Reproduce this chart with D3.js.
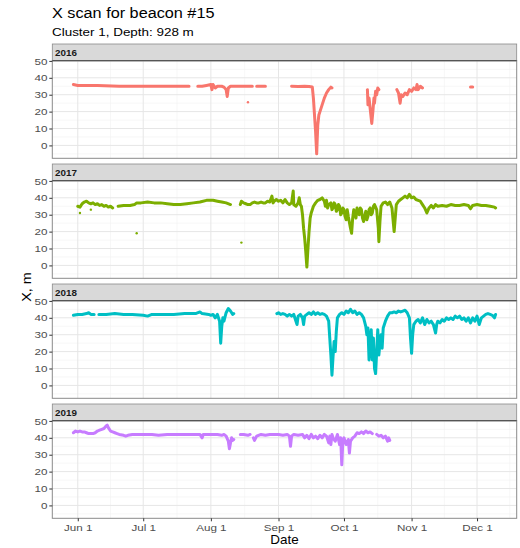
<!DOCTYPE html>
<html><head><meta charset="utf-8">
<script src="https://cdn.jsdelivr.net/npm/d3@7"></script>
<style>body{margin:0;background:#fff} svg{display:block} text{font-family:"Liberation Sans",Arial,sans-serif}</style>
</head><body><svg id="chart" width="520" height="548"></svg>
<script>
// ---------------- data ----------------
const years = ["2016", "2017", "2018", "2019"];
const seriesColors = ["#F8766D", "#7CAE00", "#00BFC4", "#C77CFF"];
const titleText = "X scan for beacon #15";
const subtitleText = "Cluster 1, Depth: 928 m";
const yTicks = [0, 10, 20, 30, 40, 50];
const xTickDates = ["06-01", "07-01", "08-01", "09-01", "10-01", "11-01", "12-01"];

// dates are "MM-DD" or "MM-DD HH"; null value = gap in record
const dates2016 = ["05-30","06-01","06-10","06-20","07-01","07-10","07-22","07-24",
  "07-26","07-28","07-30","08-01","08-01 12","08-02","08-03","08-04","08-06","08-07","08-08","08-08 12","08-09","08-10","08-12","08-16","08-20","08-21",
  "08-22","08-26","08-28",
  "09-07","09-10","09-13","09-15","09-16 12","09-17","09-17 12","09-18","09-18 12","09-18 18","09-19","09-19 12","09-20","09-21","09-22","09-23","09-24","09-25","09-25 12","09-30",
  "10-11 18","10-12","10-12 12","10-13","10-13 18","10-14 06","10-14 18","10-15","10-15 12","10-16","10-16 12","10-17","10-20",
  "10-25 06","10-26","10-26 18","10-27 06","10-28","10-29","10-30","10-31","11-01","11-02","11-03","11-03 12","11-04","11-05","11-06","11-15",
  "11-28","11-29"];
const x2016 = [36,35.5,35.5,35,35,35,35,null,
  35,35,35.5,36,33,36,34,35,35,34.5,33,29,34,35,35,35,35,null,
  35,35,null,
  35,34.8,35,34.8,34.5,28,18,8,-5,4,12,18,20,24,28,31,33,34.5,34,null,
  33,24,28,22,13,20,28,25,32,30,34,33,null,
  33,31,25,30,29,31,30,33,32,34,33,36,33,35,34,null,
  34.5,34.5];
const pointDates2016 = ["08-18"];
const pointX2016 = [25.5];

const dates2017 = ["06-01","06-02","06-03","06-04","06-05","06-06","06-07","06-08","06-09","06-10","06-11","06-12","06-13","06-14","06-15","06-16","06-17","06-18",
  "06-19 12","06-22","06-25","06-27","06-28","06-30","07-03","07-06","07-09","07-12","07-15","07-18","07-21","07-24","07-27","07-30","08-02","08-04","08-06","08-08","08-10","08-12",
  "08-14 12","08-15","08-16","08-17","08-18","08-19","08-20","08-21","08-22","08-23","08-24","08-25","08-26","08-27","08-28","08-29","08-29 12","08-30","08-31",
  "09-01","09-02","09-03","09-04","09-05","09-06","09-07","09-07 18","09-08","09-09","09-10","09-10 12","09-11","09-11 12","09-12","09-12 12","09-13","09-13 12","09-14","09-14 12","09-15","09-15 12","09-16","09-17","09-18","09-19","09-20","09-21",
  "09-22","09-22 12","09-23","09-23 12","09-24","09-25","09-25 12","09-26","09-26 12","09-27","09-27 12","09-28","09-28 12","09-29","09-29 12","09-30","09-30 12",
  "10-01","10-01 12","10-02","10-02 12","10-03","10-04","10-04 12","10-05","10-05 12","10-06","10-06 12","10-07","10-07 12","10-08","10-08 12","10-09","10-09 12","10-10","10-11","10-11 12","10-12","10-12 12","10-13","10-13 12","10-14","10-14 12","10-15","10-16","10-16 18","10-17","10-17 12","10-18","10-19","10-20","10-21","10-22","10-23","10-24","10-24 12","10-25","10-26","10-27","10-28","10-29","10-30","10-31",
  "11-01","11-02","11-03","11-04","11-05","11-06","11-07","11-08","11-09","11-10","11-11","11-12","11-13","11-15","11-17","11-19","11-21","11-23","11-25","11-27","11-28","11-29",
  "12-01","12-03","12-05","12-07","12-09","12-09 12"];
const x2017 = [35,34.5,36.5,37.5,38,37,36.5,37,36,36.5,35.5,36,35,35.5,34.5,35,34,null,
  35,35.5,35.5,36,37,37,37.5,37,37,36.5,36,36,36.5,37,37.5,38.5,38.5,38,37.5,37,36,null,
  36,38,37,36.5,36,36,37,37.5,37,37,37.5,37,37,38,37.5,41,37,38,39,
  38,38.5,37,39,37,36,37,44,36,35,37,40,36,35,30,22,16,8,-1,10,20,28,31,35,37,38.5,39,40,
  38,35,38.5,34,36,37,33,34,37,36,32,33,36,35,30,31,34,
  33,29,27,33,29,22,19,28,33,31,28,34,31,30,34,33,28,26,32,27,29,33,34,30,31,35,36,33,22,14,26,35,37,37.5,36,37.5,34,20,28,36,38,39,40,41,40,42,
  40,40.5,39,38.5,38,36,34,31,34,35.5,34,36,35,35.5,35,36,35.5,35.5,36,35.5,33.5,35.5,
  36,35.5,35.5,35,34.5,34];
const pointDates2017 = ["06-02","06-07","06-28","08-15"];
const pointX2017 = [31, 33, 19, 13.5];

const dates2018 = ["05-30","06-01","06-03","06-05","06-06","06-07","06-08 12","06-09",
  "06-10 16","06-14","06-18","06-22","06-26","07-01","07-03","07-05","07-10","07-15","07-20","07-25","07-27","07-28","07-31","08-01","08-02","08-03","08-04","08-05","08-05 12","08-06","08-06 12","08-07","08-08","08-09","08-10","08-11","08-11 12","08-20",
  "08-31 06","09-01","09-02","09-03","09-04","09-05","09-06","09-07","09-08","09-09","09-09 12","09-10","09-11","09-12","09-12 12","09-13","09-14","09-15","09-16","09-17","09-18","09-19","09-20","09-21","09-22","09-23","09-24","09-24 12","09-25","09-25 12","09-26","09-26 12","09-27","09-27 12","09-28","09-29","09-30",
  "10-01","10-02","10-03","10-04","10-05","10-06","10-07","10-08","10-09","10-10","10-11","10-11 12","10-12","10-12 12","10-13","10-13 12","10-14","10-14 12","10-15","10-15 12","10-16","10-16 12","10-17","10-17 12","10-18","10-18 12","10-19","10-20","10-21","10-22","10-23","10-24","10-25","10-26","10-27","10-28","10-29","10-30","10-31","10-31 12",
  "11-01","11-01 12","11-02","11-03","11-04","11-05","11-06","11-07","11-08","11-09","11-10","11-11","11-12","11-12 12","11-13","11-14","11-15","11-16","11-17","11-18","11-19","11-20","11-21","11-22","11-23","11-24","11-25","11-26","11-27","11-28","11-29","11-30",
  "12-01","12-02","12-03","12-04","12-05","12-06","12-07","12-08","12-09","12-09 12"];
const x2018 = [41.5,42,42,42.5,43,42,42,null,
  42,42,42.5,42,42,41.5,41,42,42,42,42.5,42.5,43.5,42.5,42,41.5,42,40,42,38,25,35,40,38,43,45.5,44,42,42.5,null,
  42.5,43,42,42.5,42,41,42,41,42,38,36,41,42,40,36,41,42,43,42,43.5,42,43,42,42.5,42,41,38,28,18,6,17,26,20,32,40,42,43,
  42,44,43,45,43,44,42,43,42,40,35,30,34,15,25,33,15,28,10,7,20,33,18,25,30,22,34,38,41,43,43,43.5,43,44,43.5,44,44.5,43,40,28,
  19,30,36,38,39,37,40,36,39,37,38,36,31,36,38,37,39,38,40,39,40,39,41,40,41,39,40,38,40,37,40,38,
  41,36,40,41,42,42.5,42,41.5,40,42];
const pointDates2018 = [];
const pointX2018 = [];

const dates2019 = ["05-30","05-31","06-01","06-02","06-03","06-04","06-05","06-06","06-07","06-08","06-09","06-10","06-11","06-12","06-13","06-14","06-14 12","06-15","06-16","06-17","06-18","06-19","06-20","06-22","06-23","06-24","06-26","06-30","07-05","07-08","07-12","07-16","07-20","07-24","07-27","07-28","07-28 12","08-01","08-04","08-06","08-07","08-08","08-09","08-09 12","08-10","08-10 12","08-11","08-11 12","08-12",
  "08-14 12","08-16","08-18","08-19","08-20",
  "08-20 12","08-21","08-22","08-24","08-26","08-28","08-30","09-01","09-03","09-05","09-06","09-06 12","09-07","09-08","09-10","09-12","09-13","09-14","09-15","09-16","09-17","09-18","09-19","09-20","09-21","09-22","09-23","09-24","09-24 12","09-25","09-25 12","09-26","09-27","09-28","09-29","09-29 12","09-30","09-30 12",
  "10-01","10-02","10-03","10-03 12","10-04","10-05","10-06","10-07","10-08","10-09","10-10","10-11","10-12","10-13","10-14","10-15",
  "10-16","10-17","10-18","10-19","10-20","10-21","10-21 12","10-22"];
const x2019 = [43,44,43.5,44,43.5,43.5,43,42.5,42.5,42.5,43,44,44.5,45,45.5,47,47.5,46,44,43.5,43,42.5,42,41.5,41,41.5,42,42,42,41.5,42,42,42,42,42,40,42,42,42,41.5,42,41,38,33.5,37,40,38.5,39,null,
  42,42,41.5,42,null,
  40,38.5,41,42,41.5,42,42,42,41.5,42,41,35,41,42,41.5,42,40,41.5,39.5,42,40,41,39.5,41.5,40,42,41,37,41,36,42,40,38,42,36,40,24,38,
  40,36,39,31,38,40,41,43,42.5,43.5,42.5,44,43,43.5,42.5,null,
  42,41,41.5,40,41,38,40,38.5];
const pointDates2019 = [];
const pointX2019 = [];

const lineDates = [dates2016, dates2017, dates2018, dates2019];
const lineValues = [x2016, x2017, x2018, x2019];
const pointDates = [pointDates2016, pointDates2017, pointDates2018, pointDates2019];
const pointValues = [pointX2016, pointX2017, pointX2018, pointX2019];

// ---------------- helpers ----------------
const parse = d3.timeParse("%Y-%m-%d %H");
const toDate = s => parse("2000-" + (s.length > 5 ? s : s + " 00"));

const lineData = lineDates.map((ds, i) => ds.map((d, j) => ({date: toDate(d), v: lineValues[i][j]})));
const pointData = pointDates.map((ds, i) => ds.map((d, j) => ({date: toDate(d), v: pointValues[i][j]})));
const allPts = lineData.flat().concat(pointData.flat()).filter(d => d.v != null);

const xExt = d3.extent(allPts, d => +d.date);
const yExt = d3.extent(allPts, d => d.v);
const xPad = (xExt[1] - xExt[0]) * 0.05, yPad = (yExt[1] - yExt[0]) * 0.05;

const L = 52.3, R = 516.7;
const x = d3.scaleTime().domain([new Date(xExt[0] - xPad), new Date(xExt[1] + xPad)]).range([L, R]);

const svg = d3.select("#chart");
svg.append("rect").attr("width", 520).attr("height", 548).attr("fill", "#fff");

function label(g, tx, ty, str, size, sx, opts = {}) {
  return g.append("text")
    .attr("transform", `translate(${tx},${ty})${opts.rotate ? " rotate(" + opts.rotate + ")" : ""} scale(${sx},1)`)
    .attr("text-anchor", opts.anchor || "start")
    .attr("font-size", size)
    .attr("font-weight", opts.weight || "normal")
    .attr("fill", opts.fill || "#000")
    .text(str);
}

// titles
label(svg, 52, 18.3, titleText, 14, 1.16);
label(svg, 52, 35.6, subtitleText, 11.2, 1.2);
label(svg, 284.5, 544, "Date", 12.2, 1.1, {anchor: "middle"});
label(svg, 30.5, 287, "X, m", 12, 1.2, {anchor: "middle", rotate: -90});

const majorX = xTickDates.map(toDate);
const stepX = x(majorX[1]) - x(majorX[0]);
const minorX = [];
for (let i = -1; i < majorX.length; i++) {
  const a = i < 0 ? x(majorX[0]) - stepX : x(majorX[i]);
  const b = i + 1 < majorX.length ? x(majorX[i + 1]) : x(majorX[i]) + stepX;
  minorX.push((a + b) / 2);
}

years.forEach((yr, i) => {
  const top = 44 + 120 * i;
  const pTop = top + 16.7, pBot = top + 114.3;
  const y = d3.scaleLinear().domain([yExt[0] - yPad, yExt[1] + yPad]).range([pBot, pTop]);
  const g = svg.append("g");

  g.append("rect").attr("x", L).attr("y", pTop).attr("width", R - L).attr("height", pBot - pTop).attr("fill", "#fff");

  // minor grid
  const minorY = yTicks.map(t => t - 5).concat([yTicks[yTicks.length - 1] + 5]).filter(t => y(t) > pTop && y(t) < pBot);
  g.selectAll(".mny").data(minorY).join("line")
    .attr("x1", L).attr("x2", R).attr("y1", d => y(d)).attr("y2", d => y(d))
    .attr("stroke", "#F2F2F2").attr("stroke-width", 0.6);
  g.selectAll(".mnx").data(minorX.filter(v => v > L && v < R)).join("line")
    .attr("x1", d => d).attr("x2", d => d).attr("y1", pTop).attr("y2", pBot)
    .attr("stroke", "#F2F2F2").attr("stroke-width", 0.6);
  // major grid
  g.selectAll(".mjy").data(yTicks).join("line")
    .attr("x1", L).attr("x2", R).attr("y1", d => y(d)).attr("y2", d => y(d))
    .attr("stroke", "#E6E6E6").attr("stroke-width", 1);
  g.selectAll(".mjx").data(majorX).join("line")
    .attr("x1", d => x(d)).attr("x2", d => x(d)).attr("y1", pTop).attr("y2", pBot)
    .attr("stroke", "#E6E6E6").attr("stroke-width", 1);

  // data
  const line = d3.line().defined(d => d.v != null).x(d => x(d.date)).y(d => y(d.v));
  g.append("path").datum(lineData[i]).attr("d", line)
    .attr("fill", "none").attr("stroke", seriesColors[i]).attr("stroke-width", 3)
    .attr("stroke-linejoin", "round").attr("stroke-linecap", "round");
  g.selectAll(".pt").data(pointData[i]).join("circle")
    .attr("cx", d => x(d.date)).attr("cy", d => y(d.v)).attr("r", 1.2)
    .attr("fill", seriesColors[i]);

  // panel border
  g.append("rect").attr("x", L).attr("y", pTop).attr("width", R - L).attr("height", pBot - pTop)
    .attr("fill", "none").attr("stroke", "#8a8a8a").attr("stroke-width", 1);
  // strip
  g.append("rect").attr("x", L).attr("y", top).attr("width", R - L).attr("height", pTop - top)
    .attr("fill", "#D9D9D9").attr("stroke", "#8a8a8a").attr("stroke-width", 0.8);
  g.append("line").attr("x1", L).attr("x2", R).attr("y1", pTop).attr("y2", pTop)
    .attr("stroke", "#555").attr("stroke-width", 1.2);
  label(g, 55, top + 11.6, yr, 8.8, 1.12, {weight: "bold", fill: "#1A1A1A"});

  // y axis
  const ya = g.append("g").attr("transform", `translate(${L},0)`)
    .call(d3.axisLeft(y).tickValues(yTicks).tickSize(3).tickPadding(1));
  ya.select(".domain").remove();
  ya.selectAll("line").attr("stroke", "#333");
  ya.selectAll("text").attr("font-size", 9.7).attr("fill", "#4D4D4D")
    .attr("font-family", "'Liberation Sans',Arial,sans-serif")
    .attr("transform", "scale(1.2,1)");

  if (i === years.length - 1) {
    const xa = g.append("g").attr("transform", `translate(0,${pBot})`)
      .call(d3.axisBottom(x).tickValues(majorX).tickFormat(d3.timeFormat("%b %-d")).tickSize(3).tickPadding(3));
    xa.select(".domain").remove();
    xa.selectAll("line").attr("stroke", "#333");
    xa.selectAll("text").attr("font-size", 9.7).attr("fill", "#4D4D4D")
      .attr("font-family", "'Liberation Sans',Arial,sans-serif")
      .attr("transform", "scale(1.2,1)");
  }
});
</script></body></html>
